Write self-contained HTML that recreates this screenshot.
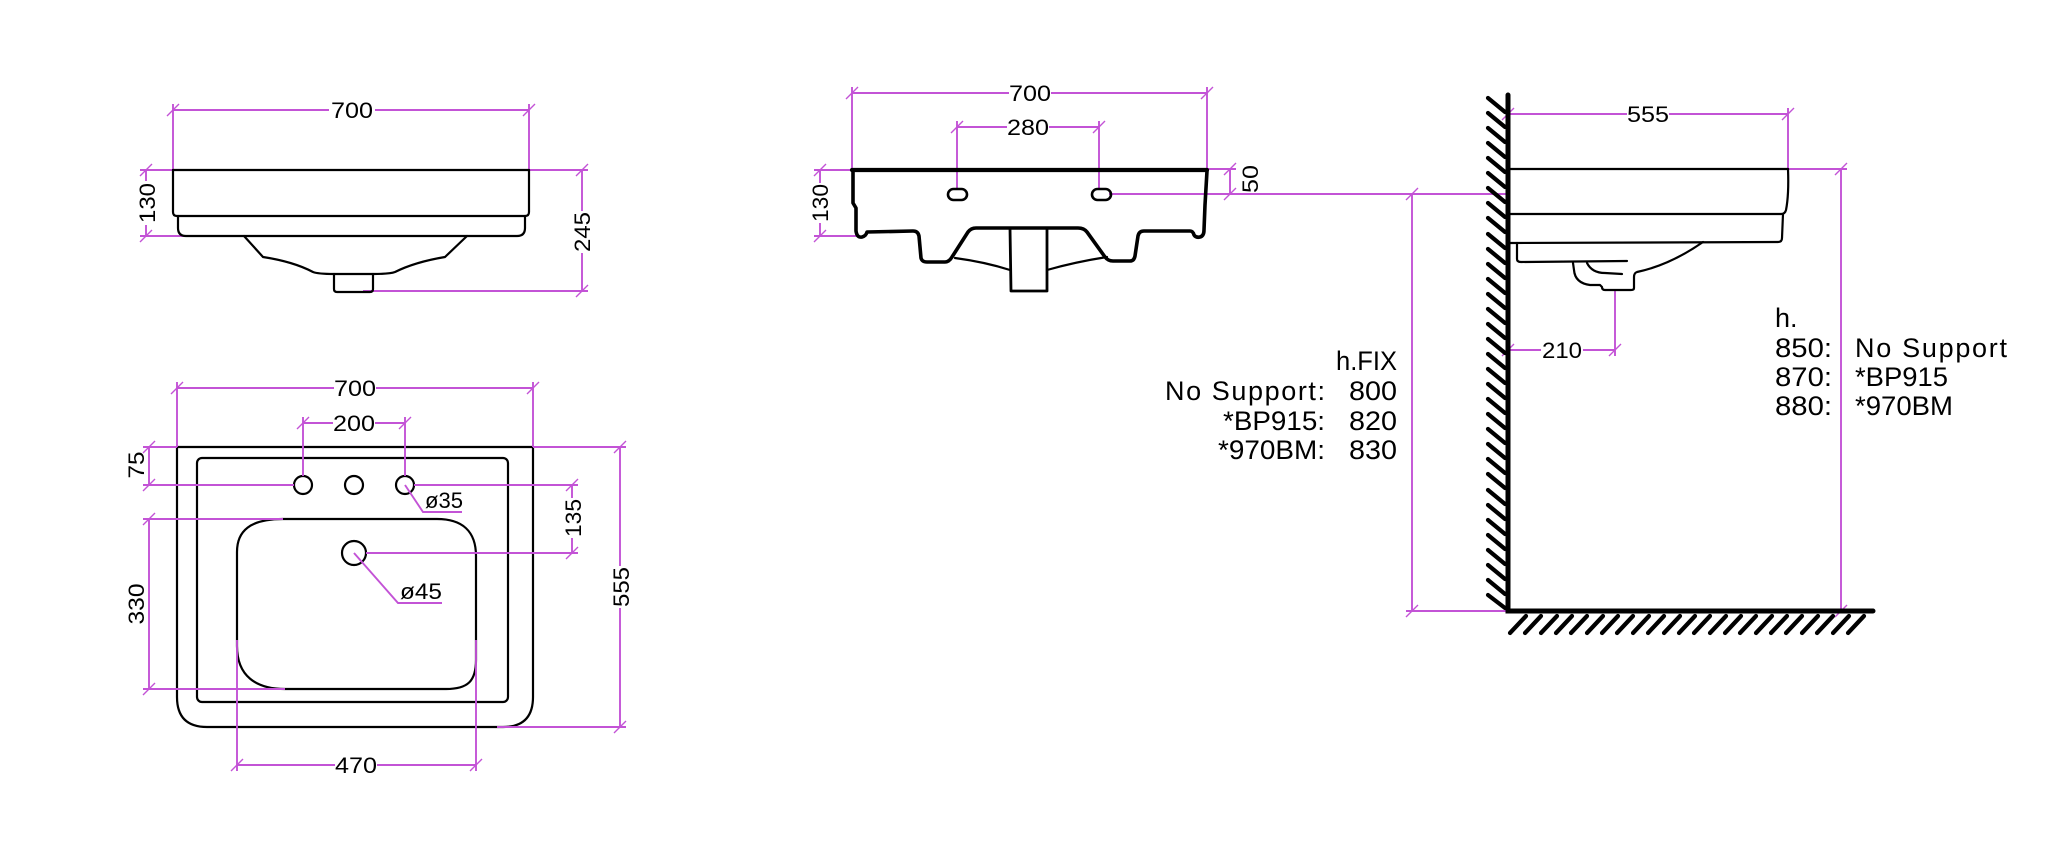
<!DOCTYPE html>
<html><head><meta charset="utf-8"><style>
html,body{margin:0;padding:0;background:#fff;}
svg{display:block;}
.d{stroke:#c353d6;stroke-width:1.9;fill:none;}
.t{stroke:#c353d6;stroke-width:1.4;fill:none;}
.k{stroke:#000;stroke-width:2.2;fill:none;stroke-linejoin:round;stroke-linecap:round;}
.k3{stroke:#000;stroke-width:3.6;fill:none;stroke-linejoin:round;stroke-linecap:round;}
.h{stroke:#000;stroke-width:4.2;fill:none;stroke-linecap:round;}
text{font-family:"Liberation Sans",sans-serif;fill:#000;}
.n{font-size:22px;}
.b{font-size:27px;}
</style></head><body>
<svg width="2048" height="863" viewBox="0 0 2048 863" xmlns="http://www.w3.org/2000/svg">
<rect width="2048" height="863" fill="#fff"/>

<!-- ===== VIEW 1 : top-left elevation ===== -->
<g class="d">
  <path d="M173,110 H329 M375,110 H529"/>
  <path d="M173,104 V170 M529,104 V170"/>
  <path d="M146,170 V181 M146,225 V236 M140,170 H173 M140,236 H188"/>
  <path d="M582,170 V211 M582,253 V291 M529,170 H588 M363,291 H588"/>
</g>
<g class="t">
  <path d="M167,116 l12,-12 M523,116 l12,-12 M140,176 l12,-12 M140,242 l12,-12 M576,176 l12,-12 M576,297 l12,-12"/>
</g>
<text class="n" x="352" y="118" text-anchor="middle" textLength="42" lengthAdjust="spacingAndGlyphs">700</text>
<text class="n" transform="translate(147,203) rotate(-90)" y="8" text-anchor="middle" textLength="40" lengthAdjust="spacingAndGlyphs">130</text>
<text class="n" transform="translate(582,232) rotate(-90)" y="8" text-anchor="middle" textLength="40" lengthAdjust="spacingAndGlyphs">245</text>
<g class="k">
  <path d="M173,170 H529"/>
  <path d="M173,170 V212 Q173,216 177,216 H525 Q529,216 529,212 V170"/>
  <path d="M178,216 V228 Q178,236 186,236 H517 Q525,236 525,228 V216"/>
  <path d="M244,236 L263,257 C276,259 296,263 313,272 Q318,274 334,274 H373 Q390,274 395,272 C413,263 433,259 445,257 L467,236"/>
  <path d="M334,274 V289 Q334,292 337,292 H370 Q373,292 373,289 V274"/>
</g>

<!-- ===== VIEW 2 : plan ===== -->
<g class="k">
  <path d="M177,447 H533 V697 Q533,727 503,727 H207 Q177,727 177,697 Z"/>
  <rect x="197" y="458" width="311" height="244" rx="5"/>
  <circle cx="303" cy="485" r="9"/>
  <circle cx="354" cy="485" r="9"/>
  <circle cx="405" cy="485" r="9"/>
  <path d="M283,519 H437 C462,519 476,531 476,556 V660 C476,681 468,689 446,689 H285 C256,689 237,676 237,646 V552 C237,531 250,519 283,519 Z"/>
  <circle cx="354" cy="553" r="12"/>
</g>
<g class="d">
  <path d="M177,388 H334 M376,388 H533 M177,382 V447 M533,382 V447"/>
  <path d="M303,423 H333 M375,423 H405 M303,417 V476 M405,417 V476"/>
  <path d="M149,447 V485 M143,447 H177 M143,485 H294"/>
  <path d="M149,519 V689 M143,519 H283 M143,689 H285"/>
  <path d="M572,485 V498 M572,538 V553 M414,485 H578 M366,553 H578"/>
  <path d="M620,447 V566 M620,608 V727 M533,447 H626 M497,727 H626"/>
  <path d="M237,765 H335 M377,765 H476 M237,640 V771 M476,640 V771"/>
  <path d="M405,485 L423,512 H462"/>
  <path d="M354,553 L398,603 H442"/>
</g>
<g class="t">
  <path d="M171,394 l12,-12 M527,394 l12,-12 M297,429 l12,-12 M399,429 l12,-12"/>
  <path d="M143,453 l12,-12 M143,491 l12,-12 M143,525 l12,-12 M143,695 l12,-12"/>
  <path d="M566,491 l12,-12 M566,559 l12,-12 M614,453 l12,-12 M614,733 l12,-12"/>
  <path d="M231,771 l12,-12 M470,771 l12,-12"/>
</g>
<text class="n" x="355" y="396" text-anchor="middle" textLength="42" lengthAdjust="spacingAndGlyphs">700</text>
<text class="n" x="354" y="431" text-anchor="middle" textLength="42" lengthAdjust="spacingAndGlyphs">200</text>
<text class="n" x="356" y="773" text-anchor="middle" textLength="42" lengthAdjust="spacingAndGlyphs">470</text>
<text class="n" x="425" y="508" textLength="38" lengthAdjust="spacingAndGlyphs">ø35</text>
<text class="n" x="400" y="599" textLength="42" lengthAdjust="spacingAndGlyphs">ø45</text>
<text class="n" transform="translate(136,465) rotate(-90)" y="8" text-anchor="middle" textLength="27" lengthAdjust="spacingAndGlyphs">75</text>
<text class="n" transform="translate(136,604) rotate(-90)" y="8" text-anchor="middle" textLength="41" lengthAdjust="spacingAndGlyphs">330</text>
<text class="n" transform="translate(573,518) rotate(-90)" y="8" text-anchor="middle" textLength="38" lengthAdjust="spacingAndGlyphs">135</text>
<text class="n" transform="translate(621,587) rotate(-90)" y="8" text-anchor="middle" textLength="40" lengthAdjust="spacingAndGlyphs">555</text>

<!-- ===== VIEW 3 : front elevation ===== -->
<g class="d">
  <path d="M852,93 H1009 M1051,93 H1207 M852,87 V170 M1207,87 V170"/>
  <path d="M957,127 H1007 M1049,127 H1099 M957,121 V189 M1099,121 V189"/>
  <path d="M820,170 V183 M820,223 V236 M814,170 H852 M814,236 H858"/>
  <path d="M1230,169 V194 M1207,169 H1236 M1109,194 H1508"/>
</g>
<g class="t">
  <path d="M846,99 l12,-12 M1201,99 l12,-12 M951,133 l12,-12 M1093,133 l12,-12"/>
  <path d="M814,176 l12,-12 M814,242 l12,-12 M1224,175 l12,-12 M1224,200 l12,-12"/>
</g>
<text class="n" x="1030" y="101" text-anchor="middle" textLength="42" lengthAdjust="spacingAndGlyphs">700</text>
<text class="n" x="1028" y="135" text-anchor="middle" textLength="42" lengthAdjust="spacingAndGlyphs">280</text>
<text class="n" transform="translate(820,203) rotate(-90)" y="8" text-anchor="middle" textLength="38" lengthAdjust="spacingAndGlyphs">130</text>
<text class="n" transform="translate(1250,179) rotate(-90)" y="8" text-anchor="middle" textLength="28" lengthAdjust="spacingAndGlyphs">50</text>
<g class="k3">
  <path d="M852,170 H1207" stroke-width="4.2"/>
  <path d="M853,171 L853,203 L856,208 L856,231 Q857,238 862,237 Q866,236 867,232 L913,231 Q918,231 919,236 L921,258 Q922,262 927,262 L945,262 Q949,262 952,257 L968,232 Q971,228 976,228 L1078,228 Q1084,228 1087,232 L1105,257 Q1108,261 1113,261 L1130,261 Q1134,261 1135,256 L1138,236 Q1139,231 1144,231 L1190,231 Q1193,231 1194,235 Q1196,238 1200,237 Q1204,236 1204,230 L1205,205 L1207,171"/>
  <rect x="948" y="189" width="19" height="11" rx="5.5" stroke-width="2.6"/>
  <rect x="1092" y="189" width="19" height="11" rx="5.5" stroke-width="2.6"/>
  <path d="M1010,228 L1011,291 L1047,291 L1047,228" stroke-width="2.8"/>
  <path d="M955,258 Q985,262 1010,270 M1047,270 Q1075,262 1107,257" stroke-width="2.2"/>
</g>

<!-- ===== VIEW 4 : side elevation with wall ===== -->
<g class="d">
  <path d="M1412,194 V611 M1406,611 H1508"/>
  <path d="M1508,114 H1627 M1669,114 H1788 M1788,108 V169"/>
  <path d="M1508,350 H1541 M1583,350 H1615 M1615,290 V356"/>
  <path d="M1841,169 V611 M1788,169 H1847"/>
</g>
<g class="t">
  <path d="M1406,200 l12,-12 M1406,617 l12,-12 M1502,120 l12,-12 M1782,120 l12,-12"/>
  <path d="M1502,356 l12,-12 M1609,356 l12,-12 M1835,175 l12,-12 M1835,617 l12,-12"/>
</g>
<text class="n" x="1648" y="122" text-anchor="middle" textLength="42" lengthAdjust="spacingAndGlyphs">555</text>
<text class="n" x="1562" y="358" text-anchor="middle" textLength="40" lengthAdjust="spacingAndGlyphs">210</text>

<g class="k" stroke-width="2.5">
  <path d="M1510,169 H1788"/>
  <path d="M1788,169 Q1789,195 1786,210 Q1785,214 1781,214"/>
  <path d="M1510,214 H1781"/>
  <path d="M1783,214 L1782,238 Q1782,242 1778,242 L1510,243"/>
  <path d="M1517,243 L1517,259 Q1517,262 1521,262 L1627,261"/>
  <path d="M1703,242 Q1670,265 1637,272 Q1634,273 1634,277 L1634,288 Q1634,290 1631,290 L1605,290 Q1602,290 1602,287 L1600,285 L1590,285 Q1575,283 1574,270 L1573,263"/>
  <path d="M1587,263 Q1592,273 1605,273 L1622,274"/>
</g>

<!-- wall & floor -->
<path d="M1508,95 V611 H1873" stroke="#000" stroke-width="5" fill="none" stroke-linecap="round" stroke-linejoin="miter"/>
<path class="h" d="M1488,98 l17,14 M1488,113 l17,14 M1488,128 l17,14 M1488,143 l17,14 M1488,158 l17,14 M1488,173 l17,14 M1488,188 l17,14 M1488,203 l17,14 M1488,218 l17,14 M1488,234 l17,14 M1488,249 l17,14 M1488,264 l17,14 M1488,279 l17,14 M1488,294 l17,14 M1488,309 l17,14 M1488,324 l17,14 M1488,339 l17,14 M1488,354 l17,14 M1488,369 l17,14 M1488,384 l17,14 M1488,399 l17,14 M1488,414 l17,14 M1488,429 l17,14 M1488,444 l17,14 M1488,459 l17,14 M1488,474 l17,14 M1488,490 l17,14 M1488,505 l17,14 M1488,520 l17,14 M1488,535 l17,14 M1488,550 l17,14 M1488,565 l17,14 M1488,580 l17,14 M1488,595 l17,13"/>
<path class="h" d="M1510,633 l16,-17 M1525,633 l16,-17 M1541,633 l16,-17 M1556,633 l16,-17 M1571,633 l16,-17 M1587,633 l16,-17 M1602,633 l16,-17 M1617,633 l16,-17 M1633,633 l16,-17 M1648,633 l16,-17 M1664,633 l16,-17 M1679,633 l16,-17 M1694,633 l16,-17 M1710,633 l16,-17 M1725,633 l16,-17 M1740,633 l16,-17 M1756,633 l16,-17 M1771,633 l16,-17 M1786,633 l16,-17 M1802,633 l16,-17 M1817,633 l16,-17 M1833,633 l16,-17 M1848,633 l16,-17"/>

<!-- text blocks -->
<text class="b" x="1397" y="370" text-anchor="end" textLength="61" lengthAdjust="spacingAndGlyphs">h.FIX</text>
<text class="b" x="1165" y="400" textLength="160" lengthAdjust="spacing">No Support:</text>
<text class="b" x="1397" y="400" text-anchor="end" textLength="48" lengthAdjust="spacingAndGlyphs">800</text>
<text class="b" x="1223" y="430" textLength="102" lengthAdjust="spacingAndGlyphs">*BP915:</text>
<text class="b" x="1397" y="430" text-anchor="end" textLength="48" lengthAdjust="spacingAndGlyphs">820</text>
<text class="b" x="1218" y="459" textLength="107" lengthAdjust="spacingAndGlyphs">*970BM:</text>
<text class="b" x="1397" y="459" text-anchor="end" textLength="48" lengthAdjust="spacingAndGlyphs">830</text>

<text class="b" x="1775" y="327">h.</text>
<text class="b" x="1775" y="357" textLength="57" lengthAdjust="spacingAndGlyphs">850:</text>
<text class="b" x="1855" y="357" textLength="152" lengthAdjust="spacing">No Support</text>
<text class="b" x="1775" y="386" textLength="57" lengthAdjust="spacingAndGlyphs">870:</text>
<text class="b" x="1855" y="386" textLength="93" lengthAdjust="spacingAndGlyphs">*BP915</text>
<text class="b" x="1775" y="415" textLength="57" lengthAdjust="spacingAndGlyphs">880:</text>
<text class="b" x="1855" y="415" textLength="98" lengthAdjust="spacingAndGlyphs">*970BM</text>
</svg>
</body></html>
